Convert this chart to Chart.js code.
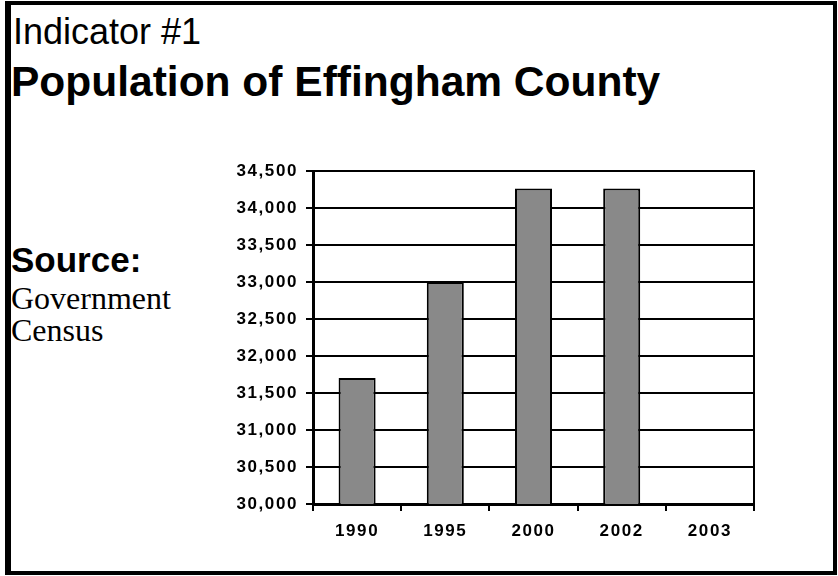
<!DOCTYPE html>
<html>
<head>
<meta charset="utf-8">
<script src="https://cdn.jsdelivr.net/npm/chart.js@4/dist/chart.umd.min.js"></script>
<style>
    body { margin: 0; width: 838px; height: 576px; background: #fff; position: relative; overflow: hidden; }
    .frame { position: absolute; left: 5px; top: 1px; width: 832px; height: 574px; box-sizing: border-box;
             border: 4px solid #000; border-left-width: 6px; }
    .txt { position: absolute; white-space: nowrap; line-height: 1; color: #000; }
    #indicator { left: 13px; top: 11px; font: 36px "Liberation Sans", Arial, sans-serif; }
    #title { left: 11px; top: 58px; font: bold 42.5px "Liberation Sans", Arial, sans-serif; }
    #source { left: 11px; top: 240px; font: bold 35px "Liberation Sans", Arial, sans-serif; }
    #gov { left: 11px; top: 280px; font: 32px "Liberation Serif", "Times New Roman", serif; }
    #census { left: 11px; top: 312px; font: 32px "Liberation Serif", "Times New Roman", serif; }
    #popChart { position: absolute; left: 220px; top: 150px; }
</style>
</head>
<body>
<div class="frame"></div>
<div class="txt" id="indicator">Indicator #1</div>
<div class="txt" id="title">Population of Effingham County</div>
<div class="txt" id="source">Source:</div>
<div class="txt" id="gov">Government</div>
<div class="txt" id="census">Census</div>
<canvas id="popChart" width="540" height="410"></canvas>

<script>
// Chart data
const years = ['1990', '1995', '2000', '2002', '2003'];
const population = [31704, 33000, 34264, 34264, null];
const yMin = 30000;
const yMax = 34500;
const yStep = 500;

// Wide letter spacing on the axis labels
const spacedText = {
    id: 'spacedText',
    beforeDraw(chart) {
        chart.ctx.letterSpacing = '1.6px';
    }
};

const tickFont = { family: "'Liberation Sans', Arial, sans-serif", size: 17, weight: 'bold' };

new Chart(document.getElementById('popChart'), {
    type: 'bar',
    data: {
        labels: years,
        datasets: [{
            data: population,
            backgroundColor: '#898989',
            borderColor: '#000',
            borderWidth: 2,
            categoryPercentage: 1,
            barPercentage: 0.42
        }]
    },
    options: {
        responsive: false,
        animation: false,
        layout: { padding: { top: 21, right: 6, left: 0, bottom: 0 } },
        plugins: {
            legend: { display: false },
            tooltip: { enabled: false }
        },
        scales: {
            x: {
                afterFit(scale) { scale.height = 56; },
                grid: { drawOnChartArea: false, tickLength: 7, color: '#000', lineWidth: 2 },
                border: { color: '#000', width: 3 },
                ticks: { color: '#000', font: tickFont, padding: 10, maxRotation: 0 }
            },
            y: {
                min: yMin,
                max: yMax,
                afterFit(scale) { scale.width = 93; },
                grid: { color: '#000', lineWidth: 2, tickLength: 7 },
                border: { color: '#000', width: 3 },
                ticks: {
                    stepSize: yStep,
                    color: '#000',
                    font: tickFont,
                    padding: 8,
                    callback: v => v.toLocaleString('en-US')
                }
            },
            yRight: {
                position: 'right',
                min: yMin,
                max: yMax,
                afterFit(scale) { scale.width = 0; },
                grid: { drawOnChartArea: false, drawTicks: false },
                border: { color: '#000', width: 2 },
                ticks: { display: false }
            }
        }
    },
    plugins: [spacedText]
});
</script>
</body>
</html>
